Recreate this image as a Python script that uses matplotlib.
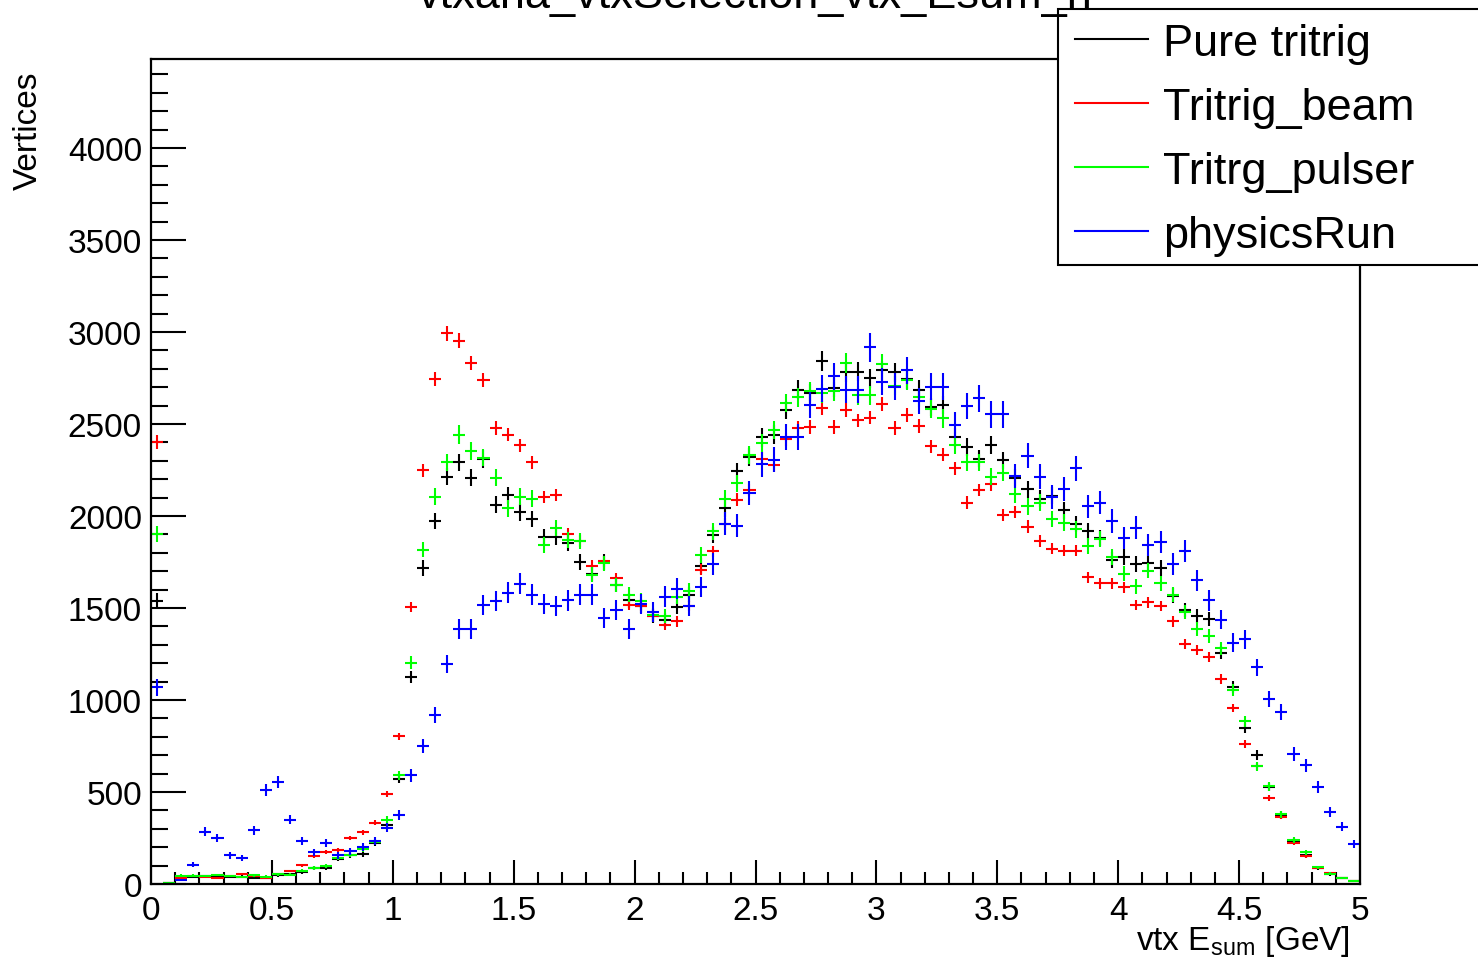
import numpy as np
import matplotlib
matplotlib.use("Agg")
import matplotlib.pyplot as plt
from matplotlib.lines import Line2D
from matplotlib.patches import Rectangle
from matplotlib.ticker import MultipleLocator

plt.rcParams['font.family'] = ['Liberation Sans', 'DejaVu Sans']
plt.rcParams['mathtext.default'] = 'regular'

# histogram: 100 bins of 0.05 GeV between 0 and 5
bin_lo, bin_hi, nbins = 0.0, 5.0, 100

pure_tritrig = [
    1540, 5, 40, 40, 42, 40, 40, 40, 35, 31,
    47, 55, 63, 87, 87, 135, 155, 162, 223, 320,
    573, 1125, 1718, 1973, 2214, 2291, 2208, 2310, 2062, 2114,
    2020, 1983, 1885, 1885, 1854, 1750, 1687, 1750, 1625, 1541,
    1510, 1458, 1437, 1504, 1573, 1729, 1896, 2041, 2243, 2322,
    2427, 2443, 2577, 2687, 2666, 2843, 2697, 2781, 2785, 2749,
    2791, 2781, 2743, 2687, 2593, 2604, 2427, 2375, 2312, 2385,
    2302, 2208, 2145, 2093, 2110, 2031, 1958, 1916, 1881, 1760,
    1777, 1739, 1743, 1718, 1568, 1489, 1458, 1441, 1256, 1073,
    848, 702, 527, 375, 235, 156, 87, 52, 31, 17]

tritrig_beam = [
    2402, 5, 33, 42, 40, 31, 45, 52, 43, 33,
    54, 72, 101, 150, 175, 183, 250, 281, 333, 490,
    802, 1506, 2250, 2743, 2993, 2952, 2833, 2739, 2479, 2443,
    2385, 2291, 2104, 2114, 1902, 1864, 1729, 1754, 1662, 1516,
    1510, 1458, 1410, 1427, 1510, 1708, 1808, 1958, 2089, 2141,
    2312, 2277, 2416, 2479, 2485, 2589, 2485, 2577, 2520, 2535,
    2610, 2479, 2548, 2489, 2379, 2333, 2260, 2073, 2141, 2173,
    2004, 2020, 1943, 1864, 1823, 1812, 1812, 1666, 1635, 1635,
    1614, 1516, 1531, 1510, 1427, 1306, 1271, 1235, 1114, 958,
    760, 640, 469, 365, 223, 152, 87, 58, 31, 17]

tritrg_pulser = [
    1902, 4, 45, 45, 42, 49, 42, 36, 47, 40,
    52, 51, 72, 87, 98, 140, 160, 190, 230, 350,
    590, 1202, 1818, 2104, 2291, 2443, 2354, 2318, 2208, 2041,
    2104, 2093, 1843, 1933, 1868, 1864, 1681, 1743, 1625, 1573,
    1540, 1464, 1458, 1562, 1594, 1787, 1916, 2093, 2177, 2333,
    2396, 2468, 2614, 2645, 2677, 2666, 2677, 2833, 2656, 2656,
    2827, 2708, 2739, 2645, 2583, 2531, 2385, 2291, 2291, 2214,
    2235, 2118, 2052, 2073, 1985, 1964, 1927, 1839, 1875, 1777,
    1687, 1618, 1702, 1635, 1573, 1479, 1385, 1348, 1281, 1052,
    885, 640, 531, 379, 240, 173, 90, 56, 31, 17]

physics_run = [
    1069, 0, 22, 105, 285, 250, 156, 140, 292, 510,
    556, 350, 235, 173, 223, 156, 177, 202, 235, 306,
    375, 590, 750, 920, 1198, 1385, 1385, 1516, 1537, 1583,
    1631, 1573, 1521, 1510, 1541, 1573, 1573, 1444, 1489, 1385,
    1521, 1479, 1562, 1604, 1510, 1614, 1739, 1958, 1948, 2125,
    2281, 2306, 2431, 2431, 2604, 2693, 2760, 2687, 2687, 2916,
    2729, 2702, 2791, 2625, 2702, 2702, 2493, 2598, 2639, 2552,
    2552, 2218, 2327, 2214, 2104, 2145, 2260, 2052, 2073, 1973,
    1881, 1937, 1843, 1860, 1739, 1812, 1650, 1541, 1437, 1312,
    1329, 1177, 1006, 937, 708, 646, 527, 392, 312, 219]

labels = ['Pure tritrig', 'Tritrig_beam', 'Tritrg_pulser', 'physicsRun']
colors = ['#000000', '#ff0000', '#00ff00', '#0000ff']
# per-sample weight, used only for the size of the error bars
weights = [1.0, 0.55, 1.0, 2.0]
series = [pure_tritrig, tritrig_beam, tritrg_pulser, physics_run]

W, H = 1478, 962
fig = plt.figure(figsize=(W / 100, H / 100), dpi=100)
ax = fig.add_axes([151 / W, (H - 885) / H, 1209 / W, 825 / H])

edges = np.linspace(bin_lo, bin_hi, nbins + 1)
centers = 0.5 * (edges[1:] + edges[:-1])
half = 0.5 * (edges[1] - edges[0])

for vals, c, w in zip(series, colors, weights):
    vals = np.asarray(vals, dtype=float)
    ax.errorbar(centers, vals, xerr=half, yerr=np.sqrt(vals * w),
                fmt='none', ecolor=c, elinewidth=1.5, capsize=0)

ax.set_xlim(0, 5)
ax.set_ylim(0, 4484)
ax.xaxis.set_major_locator(MultipleLocator(0.5))
ax.xaxis.set_minor_locator(MultipleLocator(0.1))
ax.yaxis.set_major_locator(MultipleLocator(500))
ax.yaxis.set_minor_locator(MultipleLocator(100))
ax.xaxis.set_major_formatter(plt.FuncFormatter(lambda v, p: '%g' % v))

for s in ax.spines.values():
    s.set_linewidth(1.6)
ax.tick_params(axis='both', which='both', direction='in', width=1.5,
               labelsize=24, top=False, right=False)
ax.tick_params(axis='y', which='major', length=25, pad=6.5)
ax.tick_params(axis='y', which='minor', length=12.3)
ax.tick_params(axis='x', which='major', length=17.3, pad=8)
ax.tick_params(axis='x', which='minor', length=8.3)

fig.text(1350 / W, (H - 950) / H, r'vtx E$_{sum}$ [GeV]', fontsize=24,
         ha='right', va='baseline')
fig.text(28.5 / W, (H - 72) / H, 'Vertices', fontsize=24, rotation=90,
         ha='center', va='top')
fig.text(755 / W, (H - 8) / H, 'vtxana_vtxSelection_vtx_Esum_h',
         fontsize=32.5, ha='center', va='baseline')

# legend box (ROOT TLegend style)
box = Rectangle((1058 / W, (H - 266) / H), 0.5, 256 / H,
                transform=fig.transFigure, facecolor='white',
                edgecolor='black', linewidth=1.5, zorder=1)
fig.add_artist(box)
for i, (lab, c) in enumerate(zip(labels, colors)):
    yl = 40 + 64 * i
    fig.add_artist(Line2D([1075 / W, 1148 / W], [(H - yl) / H] * 2,
                          transform=fig.transFigure, color=c, lw=1.5,
                          zorder=2))
    fig.text(1163 / W, (H - yl - 16) / H, lab, fontsize=32.5,
             ha='left', va='baseline', zorder=2)

fig.savefig('out.png', dpi=100)
